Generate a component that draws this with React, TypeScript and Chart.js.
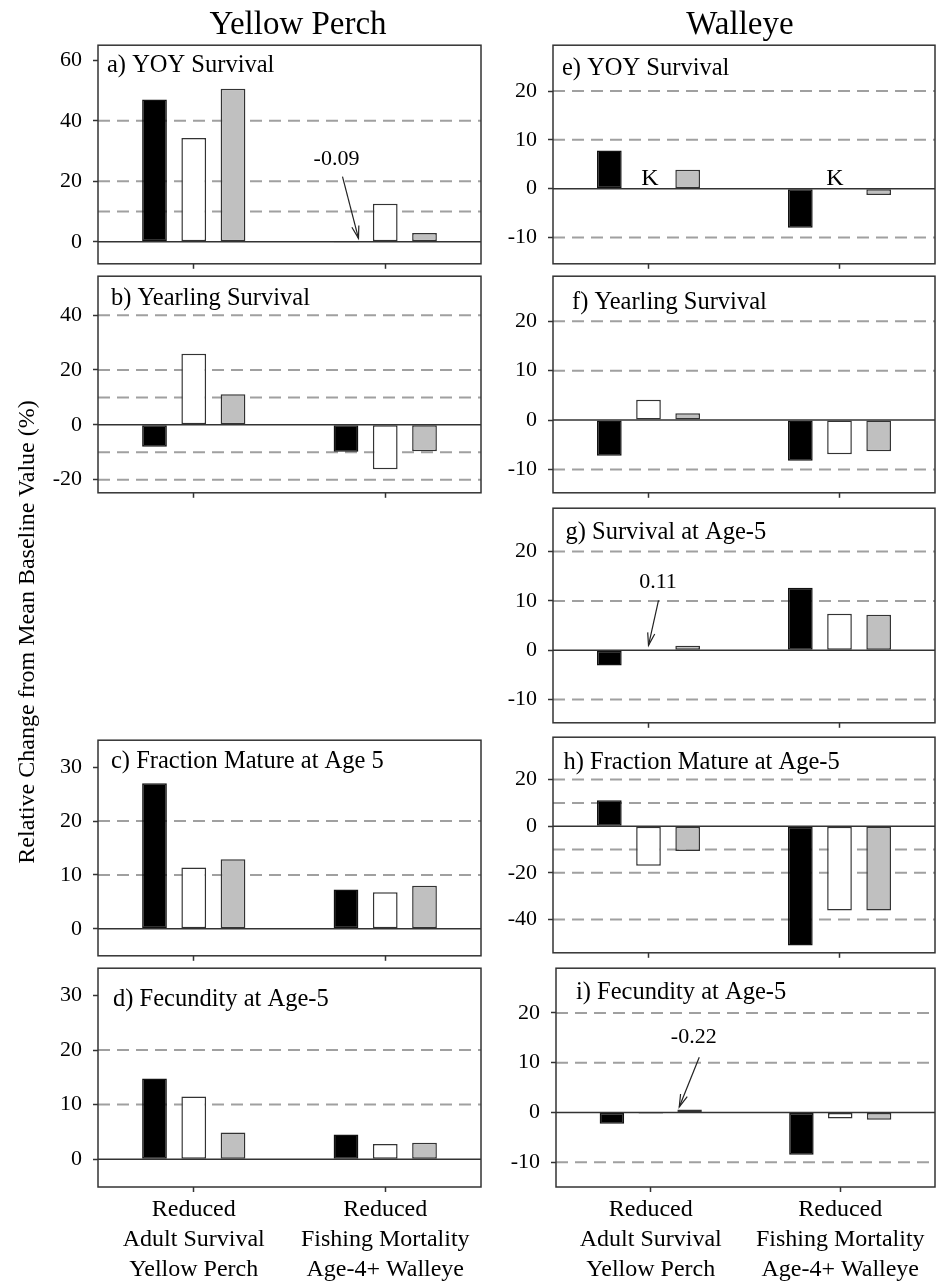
import React, { useEffect, useRef } from "react";
import { Chart, registerables } from "chart.js";

Chart.register(...registerables);

const FONT = "'Liberation Serif', 'Times New Roman', Times, serif";

// ---------- data ----------
const categoryLabels = [
  ["Reduced", "Adult Survival", "Yellow Perch"],
  ["Reduced", "Fishing Mortality", "Age-4+ Walleye"],
];
const seriesNames = ["Scenario 1", "Scenario 2", "Scenario 3"];

// a) Yellow Perch – YOY Survival
const aBlack = [47.0, -0.09];
const aWhite = [34.3, 12.6];
const aGray = [50.6, 2.9];
const aTicks = [0, 20, 40, 60];
const aDashed = [10, 20, 40];
const aRange = [-7.3, 65];

// b) Yellow Perch – Yearling Survival
const bBlack = [-8.0, -9.8];
const bWhite = [25.9, -16.2];
const bGray = [11.1, -9.6];
const bTicks = [-20, 0, 20, 40];
const bDashed = [-20, -10, 10, 20, 40];
const bRange = [-24.8, 54.2];

// c) Yellow Perch – Fraction Mature at Age 5
const cBlack = [27.0, 7.3];
const cWhite = [11.4, 6.8];
const cGray = [12.9, 8.0];
const cTicks = [0, 10, 20, 30];
const cDashed = [10, 20];
const cRange = [-5, 35];

// d) Yellow Perch – Fecundity at Age-5
const dBlack = [14.8, 4.5];
const dWhite = [11.5, 2.8];
const dGray = [4.9, 3.0];
const dTicks = [0, 10, 20, 30];
const dDashed = [10, 20];
const dRange = [-5.1, 35];

// e) Walleye – YOY Survival (white bars marked "K")
const eBlack = [7.8, -8.0];
const eWhite = [null, null];
const eGray = [3.9, -1.3];
const eTicks = [-10, 0, 10, 20];
const eDashed = [-10, 10, 20];
const eRange = [-15.4, 29.4];

// f) Walleye – Yearling Survival
const fBlack = [-7.2, -8.2];
const fWhite = [4.1, -6.9];
const fGray = [1.4, -6.3];
const fTicks = [-10, 0, 10, 20];
const fDashed = [-10, 10, 20];
const fRange = [-14.7, 29.1];

// g) Walleye – Survival at Age-5
const gBlack = [-3.1, 12.7];
const gWhite = [0.11, 7.4];
const gGray = [0.9, 7.2];
const gTicks = [-10, 0, 10, 20];
const gDashed = [-10, 10, 20];
const gRange = [-14.7, 28.8];

// h) Walleye – Fraction Mature at Age-5
const hBlack = [11.2, -51.2];
const hWhite = [-16.9, -36.2];
const hGray = [-10.6, -36.2];
const hTicks = [-40, -20, 0, 20];
const hDashed = [-40, -20, -10, 10, 20];
const hRange = [-54.3, 38.2];

// i) Walleye – Fecundity at Age-5
const iBlack = [-2.3, -8.5];
const iWhite = [-0.22, -1.2];
const iGray = [0.6, -1.5];
const iTicks = [-10, 0, 10, 20];
const iDashed = [-10, 10, 20];
const iRange = [-15.0, 29.0];

// ---------- styles / layout ----------
const CAT_PCT = 0.615;
const BAR_PCT = 0.63;
const FILLS = ["#000000", "#ffffff", "#c0c0c0"];
const EDGES = ["#111111", "#333333", "#333333"];

type Annot = {
  text: string;
  series: number;
  cat: number;
  labelDx: number;
  labelY: number;
  arrow?: [number, number, number, number]; // fromDx, fromY, toDx, toY
};

type Panel = {
  id: string;
  title: string;
  values: (number | null)[][];
  ticks: number[];
  dashed: number[];
  range: number[];
  box: { x: number; y: number; w: number; h: number };
  titlePos: [number, number];
  annots: Annot[];
  showX: boolean;
};

const LW = { x: 98, w: 383 };
const RW = { x: 553, w: 382 };

const panels: Panel[] = [
  {
    id: "a", title: "a) YOY Survival", values: [aBlack, aWhite, aGray], ticks: aTicks, dashed: aDashed, range: aRange,
    box: { ...LW, y: 43, h: 223 }, titlePos: [9, 27], showX: false,
    annots: [{ text: "-0.09", series: 0, cat: 1, labelDx: -9.5, labelY: 27.3, arrow: [-3.5, 21.5, 12.5, 1.1] }],
  },
  {
    id: "b", title: "b) Yearling Survival", values: [bBlack, bWhite, bGray], ticks: bTicks, dashed: bDashed, range: bRange,
    box: { ...LW, y: 274, h: 221 }, titlePos: [13, 28.5], showX: false, annots: [],
  },
  {
    id: "c", title: "c) Fraction Mature at Age 5", values: [cBlack, cWhite, cGray], ticks: cTicks, dashed: cDashed, range: cRange,
    box: { ...LW, y: 738, h: 220 }, titlePos: [13, 28], showX: false, annots: [],
  },
  {
    id: "d", title: "d) Fecundity at Age-5", values: [dBlack, dWhite, dGray], ticks: dTicks, dashed: dDashed, range: dRange,
    box: { ...LW, y: 966, h: 221 }, titlePos: [15, 37.5], showX: true, annots: [],
  },
  {
    id: "e", title: "e) YOY Survival", values: [eBlack, eWhite, eGray], ticks: eTicks, dashed: eDashed, range: eRange,
    box: { ...RW, y: 43, h: 223 }, titlePos: [9, 29.5], showX: false,
    annots: [
      { text: "K", series: 1, cat: 0, labelDx: 1.5, labelY: 2.1 },
      { text: "K", series: 1, cat: 1, labelDx: -4.5, labelY: 2.1 },
    ],
  },
  {
    id: "f", title: "f) Yearling Survival", values: [fBlack, fWhite, fGray], ticks: fTicks, dashed: fDashed, range: fRange,
    box: { ...RW, y: 274, h: 221 }, titlePos: [19, 32.5], showX: false, annots: [],
  },
  {
    id: "g", title: "g) Survival at Age-5", values: [gBlack, gWhite, gGray], ticks: gTicks, dashed: gDashed, range: gRange,
    box: { ...RW, y: 506, h: 219 }, titlePos: [12.5, 31], showX: false,
    annots: [{ text: "0.11", series: 1, cat: 0, labelDx: 9.5, labelY: 13.8, arrow: [10, 10.1, 0, 1.0] }],
  },
  {
    id: "h", title: "h) Fraction Mature at Age-5", values: [hBlack, hWhite, hGray], ticks: hTicks, dashed: hDashed, range: hRange,
    box: { ...RW, y: 735, h: 220 }, titlePos: [10.5, 31.5], showX: false, annots: [],
  },
  {
    id: "i", title: "i) Fecundity at Age-5", values: [iBlack, iWhite, iGray], ticks: iTicks, dashed: iDashed, range: iRange,
    box: { x: 556, w: 379, y: 966, h: 221 }, titlePos: [20, 30.5], showX: true,
    annots: [{ text: "-0.22", series: 1, cat: 0, labelDx: 43, labelY: 15.1, arrow: [48.5, 11.1, 28.5, 1.1] }],
  },
];

function decoPlugin(p: Panel) {
  return {
    id: "deco_" + p.id,
    beforeDatasetsDraw(chart: any) {
      const { ctx, chartArea: a, scales } = chart;
      const y = scales.y;
      ctx.save();
      ctx.strokeStyle = "#a0a0a0";
      ctx.lineWidth = 2;
      ctx.setLineDash([12, 7]);
      for (const v of p.dashed) {
        const py = y.getPixelForValue(v);
        ctx.beginPath();
        ctx.moveTo(a.left, py);
        ctx.lineTo(a.right, py);
        ctx.stroke();
      }
      ctx.restore();
    },
    afterDatasetsDraw(chart: any) {
      const { ctx, chartArea: a, scales } = chart;
      const y = scales.y;
      const x = scales.x;
      ctx.save();
      // zero line
      const z = y.getPixelForValue(0);
      ctx.strokeStyle = "#333";
      ctx.lineWidth = 1.5;
      ctx.beginPath();
      ctx.moveTo(a.left, z);
      ctx.lineTo(a.right, z);
      ctx.stroke();
      // frame
      ctx.strokeRect(a.left, a.top, a.right - a.left, a.bottom - a.top);
      // title
      ctx.fillStyle = "#000";
      ctx.font = `24.5px ${FONT}`;
      ctx.textAlign = "left";
      ctx.textBaseline = "alphabetic";
      ctx.fillText(p.title, a.left + p.titlePos[0], a.top + p.titlePos[1]);
      // annotations
      const step = x.getPixelForValue(1) - x.getPixelForValue(0);
      const slot = (step * CAT_PCT) / 3;
      for (const an of p.annots) {
        const cx = x.getPixelForValue(an.cat) + (an.series - 1) * slot;
        ctx.font = `${an.text === "K" ? 24 : 22}px ${FONT}`;
        ctx.textAlign = "center";
        ctx.textBaseline = "middle";
        ctx.fillStyle = "#000";
        ctx.fillText(an.text, cx + an.labelDx, y.getPixelForValue(an.labelY));
        if (an.arrow) {
          const [fdx, fy, tdx, ty] = an.arrow;
          const x1 = cx + fdx, y1 = y.getPixelForValue(fy);
          const x2 = cx + tdx, y2 = y.getPixelForValue(ty);
          ctx.strokeStyle = "#222";
          ctx.lineWidth = 1.2;
          ctx.beginPath();
          ctx.moveTo(x1, y1);
          ctx.lineTo(x2, y2);
          ctx.stroke();
          const ang = Math.atan2(y2 - y1, x2 - x1);
          const hl = 13;
          ctx.beginPath();
          ctx.moveTo(x2 - hl * Math.cos(ang - 0.28), y2 - hl * Math.sin(ang - 0.28));
          ctx.lineTo(x2, y2);
          ctx.lineTo(x2 - hl * Math.cos(ang + 0.28), y2 - hl * Math.sin(ang + 0.28));
          ctx.stroke();
        }
      }
      ctx.restore();
    },
  };
}

const YW = 90;
const PT = 22;
const PR = 4;

function PanelChart({ p }: { p: Panel }) {
  const ref = useRef<HTMLCanvasElement>(null);
  const XH = p.showX ? 100 : 8;
  const PB = p.showX ? 0 : 14;
  const cw = YW + p.box.w + PR;
  const ch = PT + p.box.h + XH + PB;

  useEffect(() => {
    if (!ref.current) return;
    const chart = new Chart(ref.current, {
      type: "bar",
      data: {
        labels: categoryLabels as any,
        datasets: p.values.map((vals, i) => ({
          label: seriesNames[i],
          data: vals as any,
          backgroundColor: FILLS[i],
          borderColor: EDGES[i],
          borderWidth: 1.5,
          borderSkipped: false,
          barPercentage: BAR_PCT,
          categoryPercentage: CAT_PCT,
        })),
      },
      options: {
        animation: false,
        responsive: false,
        devicePixelRatio: 1,
        layout: { padding: { top: PT, right: PR, left: 0, bottom: PB } },
        plugins: { legend: { display: false }, tooltip: { enabled: false } },
        scales: {
          x: {
            type: "category",
            offset: true,
            grid: {
              display: true,
              drawOnChartArea: false,
              drawTicks: true,
              tickLength: 5,
              tickWidth: 1.5,
              tickColor: "#333",
              offset: false,
            },
            border: { display: false },
            ticks: {
              display: p.showX,
              font: { family: FONT, size: 24, lineHeight: 1.24 },
              color: "#000",
              padding: 3,
              maxRotation: 0,
              minRotation: 0,
              autoSkip: false,
            },
            afterFit: (s: any) => {
              s.height = XH;
            },
          },
          y: {
            type: "linear",
            min: p.range[0],
            max: p.range[1],
            grid: {
              display: true,
              drawOnChartArea: false,
              drawTicks: true,
              tickLength: 5,
              tickWidth: 1.5,
              tickColor: "#333",
            },
            border: { display: false },
            ticks: {
              font: { family: FONT, size: 22 },
              color: "#000",
              padding: 11,
              autoSkip: false,
              callback: (v: any) => String(v),
            },
            afterBuildTicks: (s: any) => {
              s.ticks = p.ticks.map((v) => ({ value: v }));
            },
            afterFit: (s: any) => {
              s.width = YW;
            },
          },
        },
      },
      plugins: [decoPlugin(p)],
    } as any);
    return () => chart.destroy();
  }, []);

  return (
    <canvas
      ref={ref}
      width={cw}
      height={ch}
      style={{ position: "absolute", left: p.box.x - YW, top: p.box.y - PT, width: cw, height: ch }}
    />
  );
}

export default function App() {
  return (
    <div
      style={{
        position: "absolute",
        left: 0,
        top: 0,
        width: 936,
        height: 1282,
        background: "#fff",
        overflow: "hidden",
      }}
    >
      {panels.map((p) => (
        <PanelChart key={p.id} p={p} />
      ))}
      <div
        style={{
          position: "absolute", left: 98, top: 7, width: 400, height: 33,
          fontFamily: FONT, fontSize: 33, lineHeight: "33px", textAlign: "center", color: "#000", whiteSpace: "nowrap",
        }}
      >
        Yellow Perch
      </div>
      <div
        style={{
          position: "absolute", left: 540, top: 7, width: 400, height: 33,
          fontFamily: FONT, fontSize: 33, lineHeight: "33px", textAlign: "center", color: "#000", whiteSpace: "nowrap",
        }}
      >
        Walleye
      </div>
      <div
        style={{
          position: "absolute", left: 26 - 300, top: 632 - 12, width: 600, height: 24,
          fontFamily: FONT, fontSize: 24, lineHeight: "24px", textAlign: "center", color: "#000",
          whiteSpace: "nowrap", transform: "rotate(-90deg)", transformOrigin: "50% 50%",
        }}
      >
        Relative Change from Mean Baseline Value (%)
      </div>
    </div>
  );
}
